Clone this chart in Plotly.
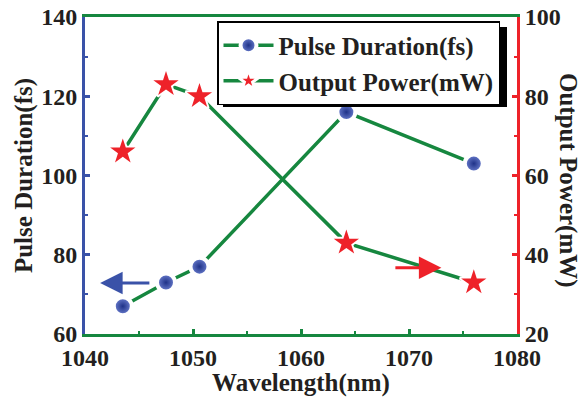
import plotly.graph_objects as go

# Measured values
wavelength = [1043.5, 1047.5, 1050.6, 1064.2, 1076.0]
pulse_fs = [67, 73, 77, 116, 103]
power_mw = [66, 83, 80, 43, 33]

x_ticks = [1040, 1050, 1060, 1070, 1080]
y_ticks = [60, 80, 100, 120, 140]
y2_ticks = [20, 40, 60, 80, 100]

GREEN = "#16873f"
BLUE = "#3a52a8"
RED = "#ee2229"
INK = "#231f20"
FONT = "Liberation Serif"

W, H = 587, 397
L, R, T, B = 85, 70, 17, 63
pw, ph = W - L - R, H - T - B


def px_x(p):
    return (p - L) / pw


def px_y(p):
    return (H - B - p) / ph


fig = go.Figure()

fig.add_trace(go.Scatter(
    x=wavelength, y=pulse_fs, name="Pulse Duration(fs)",
    mode="lines+markers",
    line=dict(color=GREEN, width=3.5),
    marker=dict(symbol="circle", size=18, color="#6f82d2",
                gradient=dict(type="radial", color="#1f3288"),
                line=dict(color="white", width=4)),
))
fig.add_trace(go.Scatter(
    x=wavelength, y=power_mw, name="Output Power(mW)", yaxis="y2",
    mode="lines+markers",
    line=dict(color=GREEN, width=3.5),
    marker=dict(symbol="star", size=21, color=RED,
                line=dict(color="white", width=3)),
))
# crisp stars on top of the haloed ones
fig.add_trace(go.Scatter(
    x=wavelength, y=power_mw, yaxis="y2", mode="markers", showlegend=False,
    marker=dict(symbol="star", size=19, color=RED, line=dict(width=0)),
    hoverinfo="skip",
))

tickfont = dict(family=FONT, size=24, color=INK)
titlefont = dict(family=FONT, size=25, color=INK)

fig.update_layout(
    width=W, height=H,
    margin=dict(l=L, r=R, t=T, b=B, autoexpand=False),
    paper_bgcolor="white", plot_bgcolor="white",
    font=dict(family=FONT, color=INK),
    showlegend=True,
    legend=dict(
        x=px_x(217), y=px_y(21), xanchor="left", yanchor="top",
        bgcolor="white", bordercolor="black", borderwidth=1.5,
        font=dict(family=FONT, size=25, color=INK, weight="bold"),
        itemwidth=50, tracegroupgap=0,
    ),
    xaxis=dict(
        range=[1040, 1080], tickvals=x_ticks, ticktext=[f"<b>{v}</b>" for v in x_ticks],
        ticks="inside", ticklen=5, tickwidth=2.5, tickcolor=GREEN,
        minor=dict(dtick=5, ticks="inside", ticklen=3, tickwidth=2, tickcolor=GREEN),
        showline=True, linecolor=GREEN, linewidth=3, mirror=True,
        showgrid=False, zeroline=False, tickfont=tickfont, automargin=False,
        title=dict(text="<b>Wavelength(nm)</b>", font=titlefont, standoff=0),
    ),
    yaxis=dict(
        range=[60, 140], tickvals=y_ticks, ticktext=[f"<b>{v}</b>" for v in y_ticks],
        ticks="inside", ticklen=5, tickwidth=2.5, tickcolor=BLUE,
        minor=dict(dtick=10, ticks="inside", ticklen=3, tickwidth=2, tickcolor=BLUE),
        showline=True, linecolor=BLUE, linewidth=3,
        showgrid=False, zeroline=False, tickfont=tickfont, automargin=False,
        title=dict(text="<b>Pulse Duration(fs)</b>", font=titlefont, standoff=2),
    ),
    yaxis2=dict(
        range=[20, 100], tickvals=y2_ticks, ticktext=[f"<b>{v}</b>" for v in y2_ticks],
        overlaying="y", side="right",
        ticks="inside", ticklen=5, tickwidth=2.5, tickcolor=RED,
        minor=dict(dtick=10, ticks="inside", ticklen=3, tickwidth=2, tickcolor=RED),
        showline=True, linecolor=RED, linewidth=3,
        showgrid=False, zeroline=False, tickfont=tickfont, automargin=False,
    ),
)

# right-hand axis title, reading top to bottom
fig.add_annotation(
    text="<b>Output Power(mW)</b>", xref="paper", yref="paper",
    x=px_x(568), y=px_y(180), xanchor="center", yanchor="middle",
    textangle=90, showarrow=False, font=titlefont,
)

# arrows pointing to each series' axis
fig.add_annotation(
    x=1041.4, y=72.9, ax=1046.1, ay=72.9, xref="x", yref="y", axref="x", ayref="y",
    text="", showarrow=True, arrowhead=2, arrowsize=1.5, arrowwidth=3, arrowcolor=BLUE,
)
fig.add_annotation(
    x=1073.0, y=36.7, ax=1068.6, ay=36.7, xref="x", yref="y2", axref="x", ayref="y2",
    text="", showarrow=True, arrowhead=2, arrowsize=1.5, arrowwidth=3, arrowcolor=RED,
)

# drop shadow behind the legend box
fig.add_shape(
    type="rect", xref="paper", yref="paper",
    x0=px_x(223), x1=px_x(507), y0=px_y(107), y1=px_y(27),
    fillcolor="black", line=dict(width=0), layer="above",
)

fig.write_html("out.html")
